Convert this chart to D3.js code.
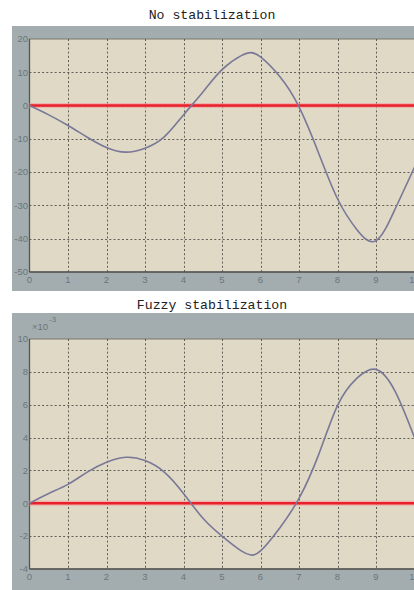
<!DOCTYPE html>
<html><head><meta charset="utf-8">
<script src="https://cdn.jsdelivr.net/npm/d3@7"></script>
<style>html,body{margin:0;padding:0;background:#fff;overflow:hidden}svg{display:block}</style>
</head><body>
<svg id="c" width="414" height="590"></svg>
<script>
// ---- data ----
const xTicks = [0,1,2,3,4,5,6,7,8,9,10];
const topYTicks = [20,10,0,-10,-20,-30,-40,-50];
const botYTicks = [10,8,6,4,2,0,-2,-4];
const xs = [0,0.5,1,1.5,2,2.5,3,3.5,4,4.5,5,5.5,5.75,6,6.5,7,7.5,8,8.5,9,9.5,10];
const noStab = [0,-2.8,-6,-9.5,-12.6,-14,-12.8,-9.4,-2.8,4,10.8,15,15.9,14.6,8.7,-0.4,-14,-28,-37.2,-40.6,-31,-18.5];
const fuzzy = [0,0.6,1.15,1.9,2.5,2.8,2.6,1.9,0.6,-0.9,-2.0,-2.9,-3.15,-2.9,-1.5,0.3,2.9,5.95,7.6,8.15,6.8,4.0];
const reference = [0,0];
const titles = ["No stabilization","Fuzzy stabilization"];

const svg = d3.select("#c");

function panel(cfg){
  const g = svg.append("g");
  g.append("text").attr("x",212).attr("y",cfg.titleY).attr("text-anchor","middle")
    .attr("font-family","'Liberation Mono','DejaVu Sans Mono',monospace").attr("font-size",13.2)
    .attr("fill","#222").text(cfg.title);
  g.append("rect").attr("x",12).attr("y",cfg.panelTop).attr("width",420).attr("height",cfg.panelBottom-cfg.panelTop)
    .attr("fill","#a3adaf");
  const x = d3.scaleLinear().domain([0,10]).range([29.5,414.5]);
  const y = d3.scaleLinear().domain(cfg.domain).range([cfg.plotBottom,cfg.plotTop]);
  g.append("rect").attr("x",x(0)).attr("y",cfg.plotTop).attr("width",x(10)-x(0)).attr("height",cfg.plotBottom-cfg.plotTop)
    .attr("fill","#e0d9c5").attr("stroke","#7a766a").attr("stroke-width",1);
  const grid = g.append("g").attr("stroke","#4a4a44").attr("stroke-width",1).attr("stroke-dasharray","2,2.2").attr("opacity",0.85);
  grid.selectAll(".gx").data(xTicks.slice(1,10)).join("line")
    .attr("x1",d=>Math.round(x(d))+0.5).attr("x2",d=>Math.round(x(d))+0.5)
    .attr("y1",cfg.plotTop).attr("y2",cfg.plotBottom);
  grid.selectAll(".gy").data(cfg.yTicks.slice(1,cfg.yTicks.length-1)).join("line")
    .attr("x1",x(0)).attr("x2",x(10))
    .attr("y1",d=>Math.round(y(d))+0.5).attr("y2",d=>Math.round(y(d))+0.5);
  g.append("line").attr("x1",x(0)).attr("x2",x(0)).attr("y1",cfg.plotTop).attr("y2",cfg.plotBottom).attr("stroke","#555").attr("stroke-width",1.3);
  g.append("line").attr("x1",x(0)).attr("x2",x(10)).attr("y1",cfg.plotBottom).attr("y2",cfg.plotBottom).attr("stroke","#555").attr("stroke-width",1.3);
  const lab = g.append("g").attr("font-family","'Liberation Sans',Arial,sans-serif").attr("font-size",9.5).attr("fill","#6b757a");
  lab.selectAll(".ty").data(cfg.yTicks).join("text")
    .attr("x",x(0)-1.5).attr("y",d=>y(d)+3.3).attr("text-anchor","end").text(d=>d);
  lab.selectAll(".tx").data(xTicks).join("text")
    .attr("x",d=>x(d)).attr("y",cfg.plotBottom+11).attr("text-anchor","middle").text(d=>d);
  if(cfg.exp){
    lab.append("text").attr("x",32).attr("y",cfg.plotTop-9).attr("font-size",9.5).text("\u00d710");
    lab.append("text").attr("x",49).attr("y",cfg.plotTop-17).attr("font-size",8).text("-3");
  }
  const rl = d3.line().x((d,i)=>x(i*10)).y(d=>y(d));
  g.append("path").attr("d",rl(reference)).attr("stroke","#f4a0a0").attr("stroke-width",5).attr("fill","none").attr("opacity",0.7);
  g.append("path").attr("d",rl(reference)).attr("stroke","#e8202a").attr("stroke-width",2.6).attr("fill","none");
  const line = d3.line().x((d,i)=>x(xs[i])).y(d=>y(d)).curve(d3.curveNatural);
  g.append("path").attr("d",line(cfg.values)).attr("stroke","#7a7898").attr("stroke-width",1.6).attr("fill","none");
}

panel({title:titles[0],titleY:19,panelTop:26,panelBottom:291,plotTop:39,plotBottom:272,domain:[-50,20],yTicks:topYTicks,values:noStab});
panel({title:titles[1],titleY:309,panelTop:313,panelBottom:600,plotTop:339,plotBottom:569,domain:[-4,10],yTicks:botYTicks,values:fuzzy,exp:true});
</script>
</body></html>
